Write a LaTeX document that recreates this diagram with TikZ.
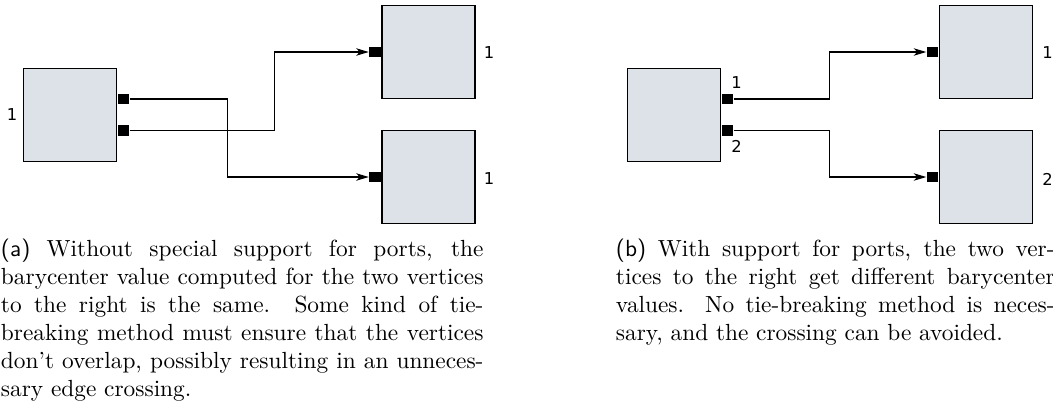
\documentclass[tikz,border=0pt]{standalone}
\usepackage{fontspec}
\newfontfamily\portlabelfont{DejaVu Sans}
\usetikzlibrary{arrows.meta,calc}
\definecolor{vertexfill}{RGB}{221,225,232}
\begin{document}
\begin{tikzpicture}[x=0.428571pt, y=-0.428571pt,
  vertex/.style={draw=black, fill=vertexfill, line width=0.6pt,
    minimum width=40pt, minimum height=40pt, inner sep=0pt},
  port/.style={fill=black, inner sep=0pt, minimum width=4.9pt, minimum height=4.3pt},
  edge/.style={draw=black, line width=0.5pt,
    -{Stealth[length=5.4pt,width=3.2pt,inset=1.5pt]}},
  lbl/.style={inner sep=0pt, font=\portlabelfont\fontsize{7}{8}\selectfont},
  capbox/.style={anchor=base west, inner sep=0pt}
]
\clip (0,0) rectangle (1053,410);
\useasboundingbox (0,0) rectangle (1053,410);

% --- (a) without port support ---
\node[vertex] (aL) at (70,115) {};
\node[vertex] (aT) at (428.5,52) {};
\node[vertex] (aB) at (428.5,177) {};
\node[port, anchor=west] (ap1) at ($(aL.east)+(0,-16)$) {};
\node[port, anchor=west] (ap2) at ($(aL.east)+(0,15.5)$) {};
\node[port, anchor=east] (aq1) at (aT.west) {};
\node[port, anchor=east] (aq2) at (aB.west) {};
\draw[edge] (ap1.east) -- ++(97.5,0) |- (aq2.west);
\draw[edge] (ap2.east) -- ++(144.5,0) |- (aq1.west);
\node[lbl] (aLl) at (12,115) {1};
\node[lbl] (aTl) at (489,53) {1};
\node[lbl] (aBl) at (489,179) {1};

% --- (b) with port support ---
\node[vertex] (bL) at (674,115) {};
\node[vertex] (bT) at (986,52) {};
\node[vertex] (bB) at (986,177) {};
\node[port, anchor=west] (bp1) at ($(bL.east)+(0,-16)$) {};
\node[port, anchor=west] (bp2) at ($(bL.east)+(0,15.5)$) {};
\node[port, anchor=east] (bq1) at (bT.west) {};
\node[port, anchor=east] (bq2) at (bB.west) {};
\draw[edge] (bp1.east) -- ++(96,0) |- (bq1.west);
\draw[edge] (bp2.east) -- ++(96,0) |- (bq2.west);
\node[lbl] (bp1l) at (736.5,83) {1};
\node[lbl] (bp2l) at (736.5,146) {2};
\node[lbl] (bTl) at (1047.5,53) {1};
\node[lbl] (bBl) at (1047.5,179) {2};

% --- captions ---
\node[capbox] (capa) at (0.5,256.5) {\parbox[t]{206.8pt}{\fontsize{10}{12}\selectfont
  \textsf{(a)} Without special support for ports, the\linebreak
  barycenter value computed for the two vertices\linebreak
  to the right is the same. Some kind of tie-\linebreak
  breaking method must ensure that the vertices\linebreak
  don't overlap, possibly resulting in an unneces-\linebreak
  sary edge crossing.}};
\node[capbox] (capb) at (615.5,256.5) {\parbox[t]{188pt}{\fontsize{10}{12}\selectfont
  \textsf{(b)} With support for ports, the two ver-\linebreak
  tices to the right get different barycenter\linebreak
  values. No tie-breaking method is neces-\linebreak
  sary, and the crossing can be avoided.}};
\end{tikzpicture}
\end{document}
